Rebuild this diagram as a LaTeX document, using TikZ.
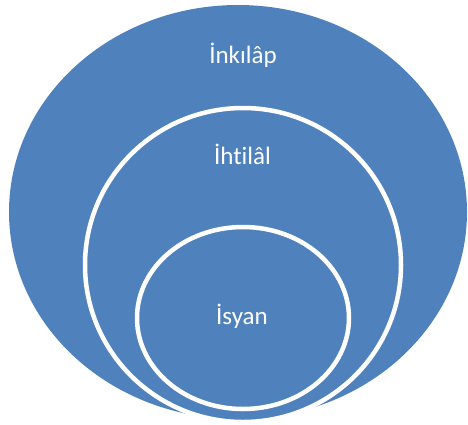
\documentclass[tikz,border=0pt]{standalone}
\usepackage{fontspec}
\setmainfont{Carlito}[Ligatures={NoCommon}]
\definecolor{ringblue}{RGB}{79,129,189}

\begin{document}
\begin{tikzpicture}[x=1pt, y=-1pt,
	ring/.style={fill=ringblue, draw=white, line width=4.5pt},
	label/.style={text=white, anchor=base, inner sep=0pt, font=\fontsize{25}{30}\selectfont}]
	\useasboundingbox (0, 0) rectangle (468, 424);

	\coordinate (O) at (238, 212);
	\coordinate (M) at (243, 265);
	\coordinate (I) at (243, 318);

	\fill [ringblue] (O) ellipse [x radius=229, y radius=207];
	\draw [ring] (M) ellipse [x radius=158, y radius=157];
	\draw [ring] (I) ellipse [x radius=106, y radius=91];

	\node [label] (inkilap) at (243, 63) {İnkılâp};
	\node [label] (ihtilal) at (242.5, 164) {İhtilâl};
	\node [label] (isyan) at (242, 324) {İsyan};
\end{tikzpicture}
\end{document}
